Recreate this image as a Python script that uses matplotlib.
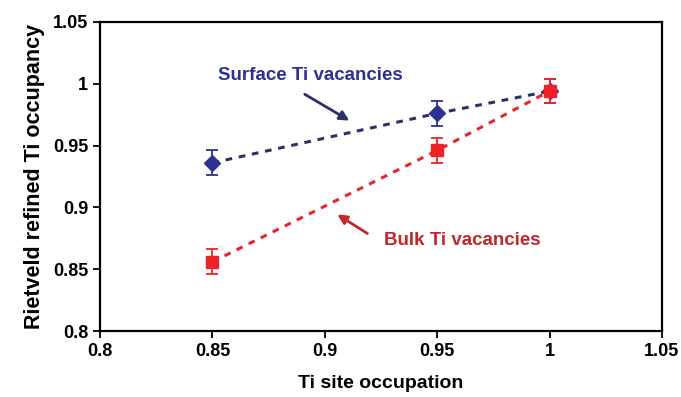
import matplotlib
matplotlib.use("Agg")
import matplotlib.pyplot as plt

plt.rcParams['font.family'] = ['Liberation Sans', 'DejaVu Sans']
plt.rcParams['font.weight'] = 'bold'

x_surface = [0.85, 0.95, 1.0]
y_surface = [0.936, 0.976, 0.994]
err_surface = [0.01, 0.01, 0.01]

x_bulk = [0.85, 0.95, 1.0]
y_bulk = [0.856, 0.946, 0.994]
err_bulk = [0.01, 0.01, 0.01]

xticks = [0.8, 0.85, 0.9, 0.95, 1.0, 1.05]
xtick_labels = ['0.8', '0.85', '0.9', '0.95', '1', '1.05']
yticks = [0.8, 0.85, 0.9, 0.95, 1.0, 1.05]
ytick_labels = ['0.8', '0.85', '0.9', '0.95', '1', '1.05']

navy_line = '#2E3068'
navy = '#2E3192'
red = '#EE2329'
dark_red = '#C1272D'

fig = plt.figure(figsize=(6.81, 3.97), dpi=100)
ax = fig.add_axes([0.147, 0.166, 0.825, 0.779])

ax.plot(x_surface, y_surface, linestyle=(0, (2.2, 2.2)), color=navy_line, lw=2.2, zorder=2)
ax.errorbar(x_surface, y_surface, yerr=err_surface, fmt='D', color=navy, ms=8.5,
            ecolor=navy, elinewidth=1.3, capsize=4, capthick=1.3, zorder=3)
ax.plot(x_bulk, y_bulk, linestyle=(0, (2.2, 2.2)), color=red, lw=2.2, zorder=2)
ax.errorbar(x_bulk, y_bulk, yerr=err_bulk, fmt='s', color=red, ms=8,
            ecolor=red, elinewidth=1.3, capsize=4, capthick=1.3, zorder=4)

ax.set_xlim(0.8, 1.05)
ax.set_ylim(0.8, 1.05)
ax.set_xticks(xticks)
ax.set_xticklabels(xtick_labels)
ax.set_yticks(yticks)
ax.set_yticklabels(ytick_labels)
ax.tick_params(axis='both', direction='out', length=5, width=1.3, labelsize=13)
ax.tick_params(top=False, right=False)
for s in ax.spines.values():
    s.set_linewidth(1.6)

ax.set_xlabel('Ti site occupation', fontsize=14, fontweight='bold', labelpad=11)
ax.set_ylabel('Rietveld refined Ti occupancy', fontsize=15.5, fontweight='bold', labelpad=6)

ax.text(0.8934, 1.007, 'Surface Ti vacancies', color=navy, fontsize=13.5,
        fontweight='bold', ha='center', va='center')
ax.text(0.961, 0.873, 'Bulk Ti vacancies', color=dark_red, fontsize=13.5,
        fontweight='bold', ha='center', va='center')

ax.annotate('', xy=(0.912, 0.969), xytext=(0.890, 0.9926),
            arrowprops=dict(arrowstyle='-|>', color=navy_line, lw=2, mutation_scale=14))
ax.annotate('', xy=(0.9045, 0.8955), xytext=(0.920, 0.8777),
            arrowprops=dict(arrowstyle='-|>', color=dark_red, lw=2, mutation_scale=14))

fig.savefig('out.png', dpi=100)
